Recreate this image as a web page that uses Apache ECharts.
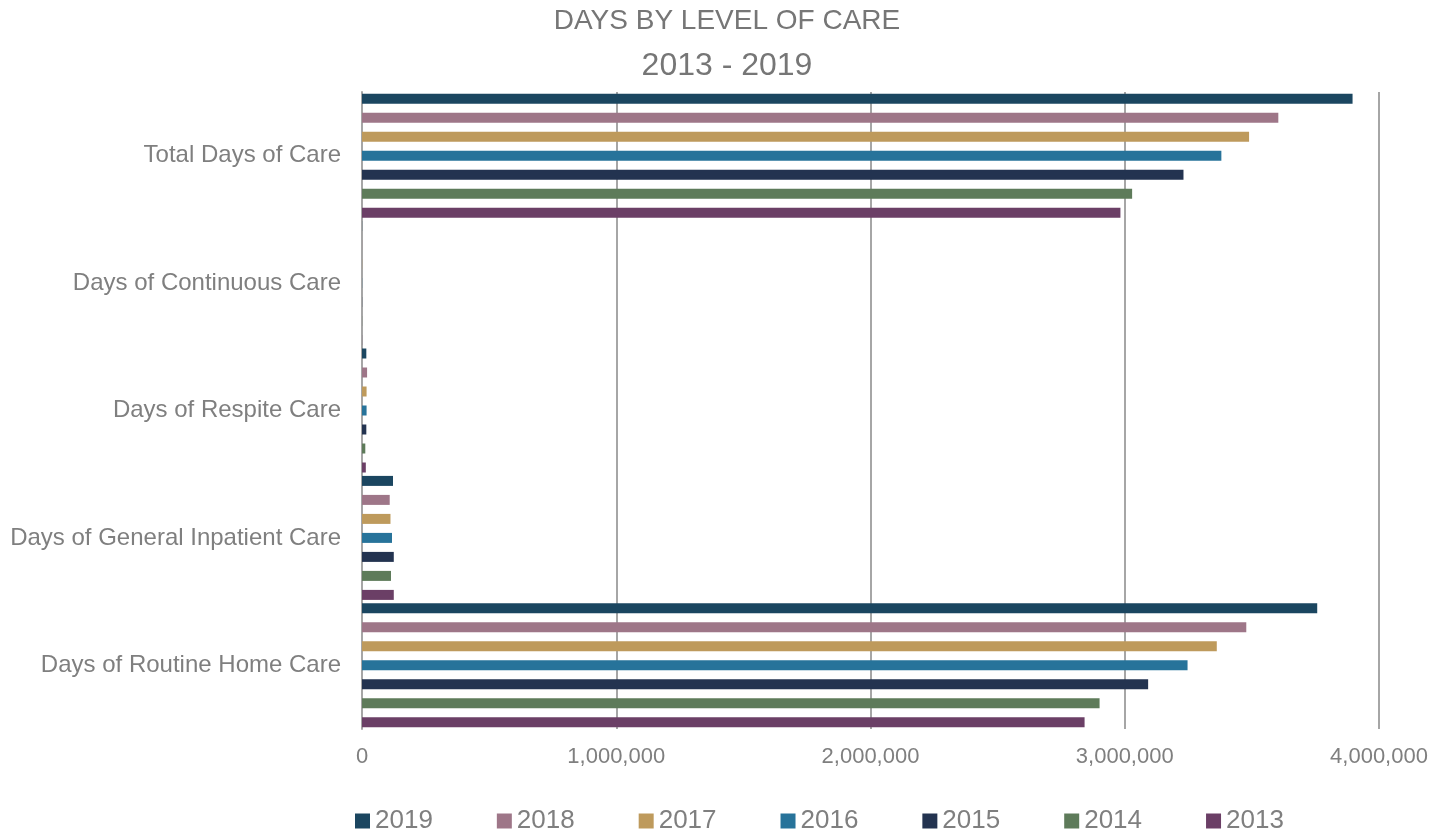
<!DOCTYPE html>
<html>
<head>
<meta charset="utf-8">
<title>Days by Level of Care</title>
<script src="https://cdn.jsdelivr.net/npm/echarts@6/dist/echarts.min.js"></script>
<style>
  html, body { margin: 0; padding: 0; background: #fff; }
  #chart { width: 1450px; height: 834px; }
</style>
</head>
<body>
<div id="chart"></div>
<script>
// categories, bottom to top as drawn
var categories = ['Days of Routine Home Care', 'Days of General Inpatient Care', 'Days of Respite Care', 'Days of Continuous Care', 'Total Days of Care'];
// series order: first series is drawn at the top of each group
var years = ['2019', '2018', '2017', '2016', '2015', '2014', '2013'];
var colors = ['#1b4660', '#9e7688', '#be9a5c', '#27739a', '#233350', '#5e7b5a', '#6b3f66'];

// values per year, same order as categories
var d2019 = [3757000, 122000, 17000, 500, 3896000];
var d2018 = [3478000, 109000, 20000, 500, 3604000];
var d2017 = [3362000, 112000, 18000, 500, 3489000];
var d2016 = [3247000, 118000, 18000, 500, 3380000];
var d2015 = [3092000, 125000, 17000, 500, 3231000];
var d2014 = [2901000, 114000, 13000, 500, 3029000];
var d2013 = [2842000, 125000, 15000, 500, 2983000];
var values = [d2019, d2018, d2017, d2016, d2015, d2014, d2013];

var xTicks = [0, 1000000, 2000000, 3000000, 4000000];

var series = years.map(function (y, i) {
  return {
    name: y,
    type: 'bar',
    data: values[i],
    barWidth: 10,
    barGap: '90%',
    itemStyle: { color: colors[i] }
  };
});

var chart = echarts.init(document.getElementById('chart'));
chart.setOption({
  animation: false,
  title: {
    text: '{a|DAYS BY LEVEL OF CARE}\n{b|2013 - 2019}',
    left: 727,
    textAlign: 'center',
    top: 1,
    padding: 0,
    textStyle: {
      fontWeight: 'normal',
      rich: {
        a: { color: '#767676', fontSize: 28, fontWeight: 'normal', fontFamily: 'Liberation Sans', lineHeight: 40 },
        b: { color: '#767676', fontSize: 32, fontWeight: 'normal', fontFamily: 'Liberation Sans', lineHeight: 50 }
      }
    }
  },
  legend: {
    data: years,
    top: 803,
    left: 350,
    itemWidth: 15,
    itemHeight: 15,
    itemGap: 64,
    icon: 'rect',
    textStyle: { color: '#7f7f7f', fontSize: 26, fontFamily: 'Liberation Sans' }
  },
  grid: { left: 362, right: 71, top: 92, bottom: 105, containLabel: false },
  xAxis: {
    type: 'value',
    min: xTicks[0],
    max: xTicks[xTicks.length - 1],
    interval: 1000000,
    axisLine: { show: false },
    axisTick: { show: false },
    splitLine: { lineStyle: { color: '#a6a6a6', width: 2 } },
    axisLabel: {
      color: '#7f7f7f',
      fontSize: 22,
      fontFamily: 'Liberation Sans',
      margin: 17,
      formatter: function (v) { return v.toLocaleString('en-US'); }
    }
  },
  yAxis: {
    type: 'category',
    data: categories,
    axisLine: { show: true, lineStyle: { color: '#a6a6a6', width: 2 } },
    axisTick: { show: false },
    axisLabel: { color: '#7f7f7f', fontSize: 24, fontFamily: 'Liberation Sans', margin: 21 }
  },
  series: series
});
</script>
</body>
</html>
